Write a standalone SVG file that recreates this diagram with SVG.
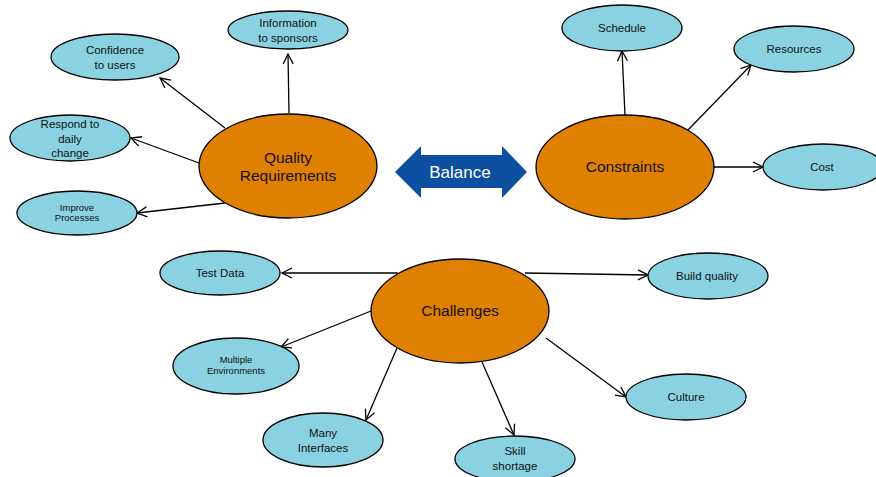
<svg xmlns="http://www.w3.org/2000/svg" width="876" height="477" viewBox="0 0 876 477">
<defs>
<marker id="arr" viewBox="0 0 12 12" refX="11" refY="6" markerWidth="12" markerHeight="12" markerUnits="userSpaceOnUse" orient="auto">
<path d="M1,1 L11,6 L1,11" fill="none" stroke="#000" stroke-width="1.3"/>
</marker>
<style>
.big{fill:#E08000;stroke:#000;stroke-width:1.3}
.sm{fill:#8AD2E2;stroke:#000;stroke-width:1.3}
text{font-family:"Liberation Sans",Arial,sans-serif;fill:#111;text-anchor:middle}
.t15{font-size:15.5px}
.t11{font-size:11.5px}
.t9{font-size:9.5px}
.c line{stroke:#000;stroke-width:1.3;marker-end:url(#arr)}
</style>
</defs>
<rect width="876" height="477" fill="#fff"/>
<g class="c" id="connectors">
<line x1="289" y1="113" x2="288" y2="54"/>
<line x1="225" y1="128" x2="160" y2="78"/>
<line x1="199" y1="163" x2="131" y2="138"/>
<line x1="225" y1="203" x2="137" y2="213"/>
<line x1="625" y1="115" x2="622" y2="51"/>
<line x1="688" y1="130" x2="751" y2="65"/>
<line x1="714" y1="167" x2="763" y2="167"/>
<line x1="398" y1="273" x2="282" y2="273"/>
<line x1="525" y1="273" x2="648" y2="275"/>
<line x1="371" y1="311" x2="281" y2="347"/>
<line x1="397" y1="348" x2="366" y2="420"/>
<line x1="482" y1="362" x2="514" y2="435"/>
<line x1="546" y1="338" x2="626" y2="397"/>
</g>
<g id="balance">
<path d="M395,172 L421,146 L421,155 L502,155 L502,146 L527,172 L502,198 L502,188 L421,188 L421,198 Z" fill="#0C4FA0"/>
<text x="460" y="178" style="font-size:17px;fill:#fff">Balance</text>
</g>
<g id="quality">
<ellipse class="big" cx="288" cy="166" rx="89" ry="52"/>
<text class="t15" x="288" y="163">Quality</text>
<text class="t15" x="288" y="181">Requirements</text>
</g>
<g id="info">
<ellipse class="sm" cx="288" cy="30" rx="60" ry="19"/>
<text class="t11" x="288" y="27">Information</text>
<text class="t11" x="288" y="42">to sponsors</text>
</g>
<g id="confidence">
<ellipse class="sm" cx="115" cy="57" rx="64" ry="23"/>
<text class="t11" x="115" y="54">Confidence</text>
<text class="t11" x="115" y="69">to users</text>
</g>
<g id="respond">
<ellipse class="sm" cx="70" cy="138" rx="60" ry="23"/>
<text class="t11" x="70" y="128">Respond to</text>
<text class="t11" x="70" y="143">daily</text>
<text class="t11" x="70" y="157">change</text>
</g>
<g id="improve">
<ellipse class="sm" cx="77" cy="213" rx="60" ry="22"/>
<text class="t9" x="77" y="211">Improve</text>
<text class="t9" x="77" y="221">Processes</text>
</g>
<g id="constraints">
<ellipse class="big" cx="625" cy="167" rx="89" ry="52"/>
<text class="t15" x="625" y="172">Constraints</text>
</g>
<g id="schedule">
<ellipse class="sm" cx="622" cy="28" rx="60" ry="23"/>
<text class="t11" x="622" y="32">Schedule</text>
</g>
<g id="resources">
<ellipse class="sm" cx="794" cy="49" rx="60" ry="23"/>
<text class="t11" x="794" y="53">Resources</text>
</g>
<g id="cost">
<ellipse class="sm" cx="823" cy="167" rx="60" ry="23"/>
<text class="t11" x="822" y="171">Cost</text>
</g>
<g id="challenges">
<ellipse class="big" cx="460" cy="311" rx="89" ry="52"/>
<text class="t15" x="460" y="316">Challenges</text>
</g>
<g id="testdata">
<ellipse class="sm" cx="220" cy="273" rx="60" ry="22"/>
<text class="t11" x="220" y="277">Test Data</text>
</g>
<g id="buildquality">
<ellipse class="sm" cx="708" cy="276" rx="60" ry="23"/>
<text class="t11" x="707" y="280">Build quality</text>
</g>
<g id="multiple">
<ellipse class="sm" cx="236" cy="366" rx="63" ry="28"/>
<text class="t9" x="236" y="363">Multiple</text>
<text class="t9" x="236" y="374">Environments</text>
</g>
<g id="interfaces">
<ellipse class="sm" cx="323" cy="440" rx="60" ry="27"/>
<text class="t11" x="323" y="437">Many</text>
<text class="t11" x="323" y="452">Interfaces</text>
</g>
<g id="skill">
<ellipse class="sm" cx="515" cy="459" rx="60" ry="23"/>
<text class="t11" x="515" y="455">Skill</text>
<text class="t11" x="515" y="470">shortage</text>
</g>
<g id="culture">
<ellipse class="sm" cx="686" cy="397" rx="60" ry="23"/>
<text class="t11" x="686" y="401">Culture</text>
</g>
</svg>
